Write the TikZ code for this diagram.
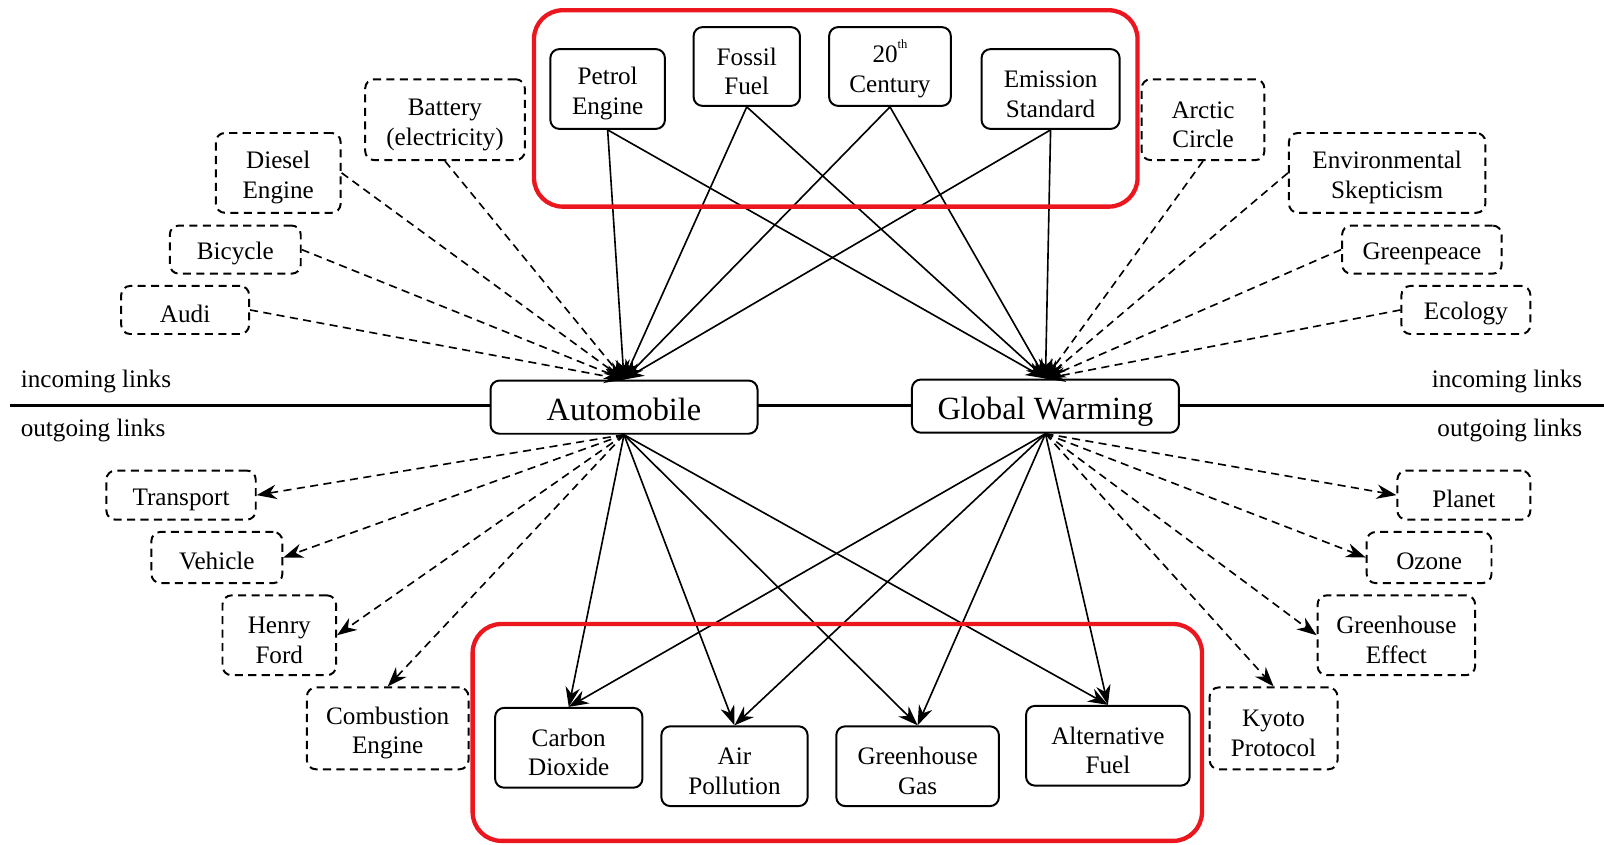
\documentclass[tikz,border=0pt]{standalone}
\usepackage{fontspec}
\setmainfont{Liberation Serif}
\usetikzlibrary{arrows.meta}
\definecolor{framered}{RGB}{236,22,30}
\newcommand{\duo}[2]{\rule{0pt}{15pt}#1\\#2}
\tikzset{
  term/.style={draw, line width=1.1pt, rounded corners=5pt, fill=white, align=center,
    inner sep=2pt, font=\fontsize{14}{16.5}\selectfont,
    execute at begin node={\rule{0pt}{14pt}}},
  related/.style={term, dash pattern=on 4.5pt off 3pt},
  topic/.style={term, font=\fontsize{18}{20}\selectfont, text height=15.2pt, text depth=0pt},
  sz/.style 2 args={minimum width=#1*0.02cm, minimum height=#2*0.02cm},
  link/.style={draw, line width=0.9pt, -{Stealth[length=11pt,width=8pt]}},
  weak/.style={link, dash pattern=on 4.5pt off 3pt},
  cluster/.style={draw=framered, line width=2.4pt, rounded corners=16pt},
  side/.style={font=\fontsize{14}{16.5}\selectfont, inner sep=0pt},
}
\begin{document}
\begin{tikzpicture}[x=0.02cm, y=-0.02cm]
  \useasboundingbox (0,0) rectangle (1568,826);
  \coordinate (axisL) at (10,396);
  \coordinate (axisR) at (1568,396);
  \draw[line width=1.7pt] (axisL) -- (axisR);

  \node (inL)  [side, anchor=west] at (20,373) {incoming links};
  \node (outL) [side, anchor=west] at (20,421) {outgoing links};
  \node (inR)  [side, anchor=east] at (1547,373) {incoming links};
  \node (outR) [side, anchor=east] at (1547,421) {outgoing links};

  \node (auto) [topic, sz={261}{52}] at (610,398) {Automobile};
  \node (gw)   [topic, sz={261}{52}] at (1022,397) {Global Warming};

  \node (petrol)   [term, sz={112}{78}] at (594,87) {\duo{Petrol}{Engine}};
  \node (fossil)   [term, sz={104}{77}] at (730,65) {\duo{Fossil}{Fuel}};
  \node (century)  [term, sz={119}{77}] at (870,65) {\duo{20\raisebox{1.2ex}{\fontsize{7}{7}\selectfont th}}{Century}};
  \node (emission) [term, sz={135}{78}] at (1027,87) {\duo{Emission}{Standard}};

  \node (battery) [related, sz={156}{79}] at (435,117) {\duo{Battery}{(electricity)}};
  \node (diesel)  [related, sz={122}{78}] at (272,169) {\duo{Diesel}{Engine}};
  \node (bicycle) [related, sz={128}{47}] at (230,244) {Bicycle};
  \node (audi)    [related, sz={125}{47}] at (181,303) {Audi};

  \node (arctic)     [related, sz={120}{79}] at (1176,117) {\duo{Arctic}{Circle}};
  \node (skeptic)    [related, sz={192}{78}] at (1356,169) {\duo{Environmental}{Skepticism}};
  \node (greenpeace) [related, sz={156}{47}] at (1390,244) {Greenpeace};
  \node (ecology)    [related, sz={126}{47}] at (1433,303) {Ecology};

  \node (transport)  [related, sz={146}{48}] at (177,484) {Transport};
  \node (vehicle)    [related, sz={128}{50}] at (212,545) {Vehicle};
  \node (ford)       [related, sz={111}{78}] at (273,621) {\duo{Henry}{Ford}};
  \node (combustion) [related, sz={158}{80}] at (379,712) {\duo{Combustion}{Engine}};

  \node (planet) [related, sz={130}{48}] at (1431,484) {Planet};
  \node (ozone)  [related, sz={122}{50}] at (1397,545) {Ozone};
  \node (effect) [related, sz={154}{78}] at (1365,621) {\duo{Greenhouse}{Effect}};
  \node (kyoto)  [related, sz={125}{80}] at (1245,712) {\duo{Kyoto}{Protocol}};

  \node (carbon)  [term, sz={144}{78}] at (556,731) {\duo{Carbon}{Dioxide}};
  \node (airpol)  [term, sz={143}{78}] at (718,749) {\duo{Air}{Pollution}};
  \node (ghgas)   [term, sz={159}{78}] at (897,749) {\duo{Greenhouse}{Gas}};
  \node (altfuel) [term, sz={160}{78}] at (1083,729) {\duo{Alternative}{Fuel}};

  \path (petrol.south)   edge[link] (auto.north) edge[link] (gw.north)
        (fossil.south)   edge[link] (auto.north) edge[link] (gw.north)
        (century.south)  edge[link] (auto.north) edge[link] (gw.north)
        (emission.south) edge[link] (auto.north) edge[link] (gw.north)
        (battery.south)   edge[weak] (auto.north)
        (diesel.east)     edge[weak] (auto.north)
        (bicycle.east)    edge[weak] (auto.north)
        (audi.east)       edge[weak] (auto.north)
        (arctic.south)    edge[weak] (gw.north)
        (skeptic.west)    edge[weak] (gw.north)
        (greenpeace.west) edge[weak] (gw.north)
        (ecology.west)    edge[weak] (gw.north);

  \path (auto.south) edge[weak] (transport.east) edge[weak] (vehicle.east)
                     edge[weak] (ford.east) edge[weak] (combustion.north)
                     edge[link] (carbon.north) edge[link] (airpol.north)
                     edge[link] (ghgas.north) edge[link] (altfuel.north)
        (gw.south)   edge[link] (carbon.north) edge[link] (airpol.north)
                     edge[link] (ghgas.north) edge[link] (altfuel.north)
                     edge[weak] (planet.west) edge[weak] (ozone.west)
                     edge[weak] (effect.west) edge[weak] (kyoto.north);

  \draw[cluster] (522,10) rectangle (1112,202);
  \draw[cluster] (462,610) rectangle (1175,822);
\end{tikzpicture}
\end{document}
